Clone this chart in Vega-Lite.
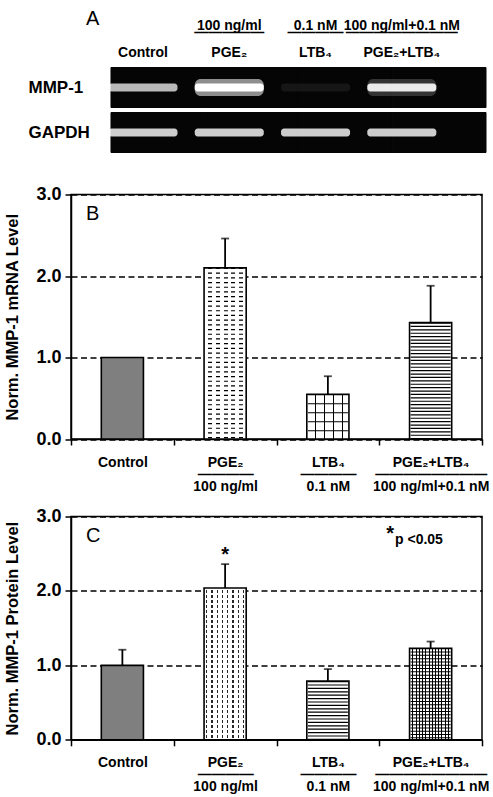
{
  "$schema": "https://vega.github.io/schema/vega-lite/v6.json",
  "background": "white",
  "padding": {"left": 4, "top": 8.5, "right": 4, "bottom": 1},
  "spacing": 12,
  "config": {
    "font": "Liberation Sans",
    "axis": {"labelColor": "black", "titleColor": "black", "domainColor": "black", "tickColor": "black", "labelOverlap": false},
    "title": {"color": "black", "anchor": "start", "frame": "group", "fontWeight": "normal", "fontSize": 20}
  },
  "resolve": {"scale": {"x": "independent", "y": "independent", "color": "independent", "opacity": "independent"}},
  "vconcat": [
    {
      "width": 415,
      "height": 104.5,
      "view": {"stroke": null},
      "title": {"text": "A", "dx": 15, "offset": -10, "frame": "group"},
      "data": {"values": [
        {"lane": "Control", "gene": "MMP-1", "i": 0.72},
        {"lane": "PGE₂", "gene": "MMP-1", "i": 1.0},
        {"lane": "LTB₄", "gene": "MMP-1", "i": 0.07},
        {"lane": "PGE₂+LTB₄", "gene": "MMP-1", "i": 0.9},
        {"lane": "Control", "gene": "GAPDH", "i": 0.8},
        {"lane": "PGE₂", "gene": "GAPDH", "i": 0.8},
        {"lane": "LTB₄", "gene": "GAPDH", "i": 0.8},
        {"lane": "PGE₂+LTB₄", "gene": "GAPDH", "i": 0.8}
      ]},
      "encoding": {
        "y": {"field": "gene", "type": "nominal", "sort": null,
          "scale": {"domain": ["MMP-1", "GAPDH"], "paddingInner": 0.111, "paddingOuter": 0.2165, "align": 0},
          "axis": {"title": null, "domain": false, "ticks": false, "labelAlign": "left", "labelPadding": 43, "labelFontSize": 17, "labelFontWeight": "bold"}}
      },
      "resolve": {"scale": {"x": "independent", "opacity": "independent"}, "axis": {"x": "independent"}},
      "layer": [
        {"mark": {"type": "rect", "color": "#050505", "stroke": "#050505", "strokeWidth": 1},
          "encoding": {
            "x": {"field": "lane", "type": "nominal", "sort": null,
              "scale": {"domain": ["Control", "PGE₂", "LTB₄", "PGE₂+LTB₄"], "paddingInner": 0, "paddingOuter": 0.2133, "align": 1},
              "axis": null}
          }},
        {"mark": {"type": "rect", "color": "white", "width": {"band": 1.6}, "height": {"band": 0.42}, "cornerRadius": 6},
          "encoding": {
            "x": {"field": "lane", "type": "nominal", "sort": null,
              "scale": {"domain": ["Control", "PGE₂", "LTB₄", "PGE₂+LTB₄"], "paddingInner": 0.5, "paddingOuter": 0.655, "align": 0.446},
              "axis": {"orient": "top", "offset": 26.7, "title": null, "domain": false, "ticks": false, "labelAngle": 0, "labelFontSize": 14, "labelFontWeight": "bold", "labelLineHeight": 7, "labelPadding": 8,
                "labelExpr": "datum.value == 'PGE₂' ? ['100 ng/ml', '—————'] : datum.value == 'LTB₄' ? ['0.1 nM', '————'] : datum.value == 'PGE₂+LTB₄' ? ['100 ng/ml+0.1 nM', '————————'] : ''"}},
            "opacity": {"field": "i", "type": "quantitative", "scale": {"domain": [0.85, 1], "range": [0, 0.55], "clamp": true}, "legend": null}
          }},
        {"mark": {"type": "rect", "color": "white", "width": {"band": 1.6}, "height": {"band": 0.2}, "cornerRadius": 3},
          "encoding": {
            "x": {"field": "lane", "type": "nominal", "sort": null,
              "scale": {"domain": ["Control", "PGE₂", "LTB₄", "PGE₂+LTB₄"], "paddingInner": 0.5, "paddingOuter": 0.655, "align": 0.446},
              "axis": {"orient": "top", "title": null, "domain": false, "ticks": false, "labelAngle": 0, "labelFontSize": 14, "labelFontWeight": "bold", "labelPadding": 8}},
            "opacity": {"field": "i", "type": "quantitative", "scale": {"domain": [0, 1], "range": [0, 1]}, "legend": null}
          }}
      ]
    },
    {
      "width": 411,
      "height": 244.5,
      "view": {"stroke": "black", "strokeWidth": 1.5},
      "title": {"text": "B", "dx": 15, "offset": -38, "frame": "group"},
      "data": {"values": [
        {"g": "Control", "v": 1.0},
        {"g": "PGE₂", "v": 2.10, "hi": 2.46},
        {"g": "LTB₄", "v": 0.55, "hi": 0.77},
        {"g": "PGE₂+LTB₄", "v": 1.43, "hi": 1.88}
      ]},
      "encoding": {
        "x": {"field": "g", "type": "nominal", "sort": null,
          "scale": {"domain": ["Control", "PGE₂", "LTB₄", "PGE₂+LTB₄"], "paddingInner": 0, "paddingOuter": 0},
          "axis": {"title": null, "labelAngle": 0, "labelFontSize": 14, "labelFontWeight": "bold", "labelLineHeight": 12, "labelPadding": 10, "tickBand": "extent", "tickSize": 6, "tickWidth": 1.5, "domainWidth": 1.5,
            "labelExpr": "datum.value == 'Control' ? 'Control' : datum.value == 'PGE₂' ? ['PGE₂', '————', '100 ng/ml'] : datum.value == 'LTB₄' ? ['LTB₄', '————', '0.1 nM'] : datum.value == 'PGE₂+LTB₄' ? ['PGE₂+LTB₄', '————————', '100 ng/ml+0.1 nM'] : ''"}},
        "y": {"field": "v", "type": "quantitative", "title": "Norm. MMP-1 mRNA Level",
          "scale": {"domain": [0, 3], "nice": false},
          "axis": {"title": "Norm. MMP-1 mRNA Level", "titleFontSize": 16.5, "titleFontWeight": "bold", "titlePadding": 15, "values": [0, 1, 2, 3], "format": ".1f", "labelFontSize": 18, "labelFontWeight": "bold", "labelPadding": 4, "tickSize": 6, "tickWidth": 1.5, "domainWidth": 1.5, "grid": true, "gridColor": "black", "gridDash": [6, 3.5], "gridWidth": 1.4, "gridOpacity": 1}}
      },
      "layer": [
        {"mark": {"type": "bar", "width": {"band": 0.41}},
          "encoding": {"color": {"field": "g", "type": "nominal", "scale": {"domain": ["Control", "PGE₂", "LTB₄", "PGE₂+LTB₄"], "range": ["#7f7f7f", "white", "white", "white"]}, "legend": null}}},
        {"transform": [{"filter": "datum.g == 'PGE₂'"}],
          "mark": {"type": "rule", "color": "black", "strokeWidth": 40, "strokeDash": [1.2, 3.5], "strokeCap": "butt"},
          "encoding": {"y2": {"datum": 0}}},
        {"transform": [{"filter": "datum.g == 'LTB₄'"}],
          "mark": {"type": "rule", "color": "black", "strokeWidth": 40, "strokeDash": [1.2, 7.8], "strokeCap": "butt"},
          "encoding": {"y2": {"datum": 0}}},
        {"transform": [{"filter": "datum.g == 'PGE₂+LTB₄'"}],
          "mark": {"type": "rule", "color": "black", "strokeWidth": 40, "strokeDash": [1.2, 2.2], "strokeCap": "butt"},
          "encoding": {"y2": {"datum": 0}}},
        {"transform": [{"filter": "datum.g == 'PGE₂'"}],
          "mark": {"type": "bar", "width": {"band": 0.41}, "fill": {"gradient": "linear", "x1": 0, "y1": 0, "x2": 1, "y2": 0, "stops": [
            {"offset": 0, "color": "white"}, {"offset": 0.105, "color": "white"}, {"offset": 0.105, "color": "rgba(255,255,255,0)"}, {"offset": 0.2, "color": "rgba(255,255,255,0)"},
            {"offset": 0.2, "color": "white"}, {"offset": 0.286, "color": "white"}, {"offset": 0.286, "color": "rgba(255,255,255,0)"}, {"offset": 0.381, "color": "rgba(255,255,255,0)"},
            {"offset": 0.381, "color": "white"}, {"offset": 0.462, "color": "white"}, {"offset": 0.462, "color": "rgba(255,255,255,0)"}, {"offset": 0.557, "color": "rgba(255,255,255,0)"},
            {"offset": 0.557, "color": "white"}, {"offset": 0.643, "color": "white"}, {"offset": 0.643, "color": "rgba(255,255,255,0)"}, {"offset": 0.738, "color": "rgba(255,255,255,0)"},
            {"offset": 0.738, "color": "white"}, {"offset": 0.819, "color": "white"}, {"offset": 0.819, "color": "rgba(255,255,255,0)"}, {"offset": 0.914, "color": "rgba(255,255,255,0)"},
            {"offset": 0.914, "color": "white"}, {"offset": 1, "color": "white"}]}}},
        {"transform": [{"filter": "datum.g == 'LTB₄'"}],
          "mark": {"type": "bar", "width": {"band": 0.41}, "fill": {"gradient": "linear", "x1": 0, "y1": 0, "x2": 1, "y2": 0, "stops": [
            {"offset": 0, "color": "rgba(0,0,0,0)"}, {"offset": 0.196, "color": "rgba(0,0,0,0)"}, {"offset": 0.196, "color": "black"}, {"offset": 0.224, "color": "black"},
            {"offset": 0.224, "color": "rgba(0,0,0,0)"}, {"offset": 0.406, "color": "rgba(0,0,0,0)"}, {"offset": 0.406, "color": "black"}, {"offset": 0.434, "color": "black"},
            {"offset": 0.434, "color": "rgba(0,0,0,0)"}, {"offset": 0.616, "color": "rgba(0,0,0,0)"}, {"offset": 0.616, "color": "black"}, {"offset": 0.644, "color": "black"},
            {"offset": 0.644, "color": "rgba(0,0,0,0)"}, {"offset": 0.826, "color": "rgba(0,0,0,0)"}, {"offset": 0.826, "color": "black"}, {"offset": 0.854, "color": "black"},
            {"offset": 0.854, "color": "rgba(0,0,0,0)"}, {"offset": 1, "color": "rgba(0,0,0,0)"}]}}},
        {"mark": {"type": "bar", "width": {"band": 0.41}, "fillOpacity": 0, "stroke": "black", "strokeWidth": 1.6}},
        {"transform": [{"filter": "isValid(datum.hi)"}],
          "mark": {"type": "rule", "color": "black", "strokeWidth": 1.8},
          "encoding": {"y2": {"field": "hi"}}},
        {"transform": [{"filter": "isValid(datum.hi)"}],
          "mark": {"type": "tick", "color": "black", "thickness": 1.8, "size": 8, "orient": "horizontal"},
          "encoding": {"y": {"field": "hi", "type": "quantitative", "title": "Norm. MMP-1 mRNA Level"}}}
      ]
    },
    {
      "width": 411,
      "height": 223.3,
      "view": {"stroke": "black", "strokeWidth": 1.5},
      "title": {"text": "C", "dx": 15, "offset": -38, "frame": "group"},
      "data": {"values": [
        {"g": "Control", "v": 1.0, "hi": 1.21},
        {"g": "PGE₂", "v": 2.04, "hi": 2.36, "s": "*"},
        {"g": "LTB₄", "v": 0.79, "hi": 0.95},
        {"g": "PGE₂+LTB₄", "v": 1.23, "hi": 1.32}
      ]},
      "encoding": {
        "x": {"field": "g", "type": "nominal", "sort": null,
          "scale": {"domain": ["Control", "PGE₂", "LTB₄", "PGE₂+LTB₄"], "paddingInner": 0, "paddingOuter": 0},
          "axis": {"title": null, "labelAngle": 0, "labelFontSize": 14, "labelFontWeight": "bold", "labelLineHeight": 12, "labelPadding": 10, "tickBand": "extent", "tickSize": 6, "tickWidth": 1.5, "domainWidth": 1.5,
            "labelExpr": "datum.value == 'Control' ? 'Control' : datum.value == 'PGE₂' ? ['PGE₂', '————', '100 ng/ml'] : datum.value == 'LTB₄' ? ['LTB₄', '————', '0.1 nM'] : datum.value == 'PGE₂+LTB₄' ? ['PGE₂+LTB₄', '————————', '100 ng/ml+0.1 nM'] : ''"}},
        "y": {"field": "v", "type": "quantitative", "title": "Norm. MMP-1 Protein Level",
          "scale": {"domain": [0, 3], "nice": false},
          "axis": {"title": "Norm. MMP-1 Protein Level", "titleFontSize": 16.5, "titleFontWeight": "bold", "titlePadding": 15, "values": [0, 1, 2, 3], "format": ".1f", "labelFontSize": 18, "labelFontWeight": "bold", "labelPadding": 4, "tickSize": 6, "tickWidth": 1.5, "domainWidth": 1.5, "grid": true, "gridColor": "black", "gridDash": [6, 3.5], "gridWidth": 1.4, "gridOpacity": 1}}
      },
      "layer": [
        {"mark": {"type": "bar", "width": {"band": 0.41}},
          "encoding": {"color": {"field": "g", "type": "nominal", "scale": {"domain": ["Control", "PGE₂", "LTB₄", "PGE₂+LTB₄"], "range": ["#7f7f7f", "white", "white", "white"]}, "legend": null}}},
        {"transform": [{"filter": "datum.g == 'PGE₂'"}],
          "mark": {"type": "bar", "width": {"band": 0.41}, "fill": {"gradient": "linear", "x1": 0, "y1": 0, "x2": 1, "y2": 0, "stops": [
            {"offset": 0, "color": "white"}, {"offset": 0.048, "color": "white"}, {"offset": 0.048, "color": "#262626"}, {"offset": 0.077, "color": "#262626"},
            {"offset": 0.077, "color": "white"}, {"offset": 0.173, "color": "white"}, {"offset": 0.173, "color": "#262626"}, {"offset": 0.202, "color": "#262626"},
            {"offset": 0.202, "color": "white"}, {"offset": 0.298, "color": "white"}, {"offset": 0.298, "color": "#262626"}, {"offset": 0.327, "color": "#262626"},
            {"offset": 0.327, "color": "white"}, {"offset": 0.423, "color": "white"}, {"offset": 0.423, "color": "#262626"}, {"offset": 0.452, "color": "#262626"},
            {"offset": 0.452, "color": "white"}, {"offset": 0.548, "color": "white"}, {"offset": 0.548, "color": "#262626"}, {"offset": 0.577, "color": "#262626"},
            {"offset": 0.577, "color": "white"}, {"offset": 0.673, "color": "white"}, {"offset": 0.673, "color": "#262626"}, {"offset": 0.702, "color": "#262626"},
            {"offset": 0.702, "color": "white"}, {"offset": 0.798, "color": "white"}, {"offset": 0.798, "color": "#262626"}, {"offset": 0.827, "color": "#262626"},
            {"offset": 0.827, "color": "white"}, {"offset": 0.923, "color": "white"}, {"offset": 0.923, "color": "#262626"}, {"offset": 0.952, "color": "#262626"},
            {"offset": 0.952, "color": "white"}, {"offset": 1, "color": "white"}]}}},
        {"transform": [{"filter": "datum.g == 'PGE₂'"}],
          "mark": {"type": "rule", "color": "white", "strokeWidth": 40, "strokeDash": [2, 3], "strokeCap": "butt"},
          "encoding": {"y2": {"datum": 0}}},
        {"transform": [{"filter": "datum.g == 'LTB₄'"}],
          "mark": {"type": "rule", "color": "black", "strokeWidth": 40, "strokeDash": [1.2, 2.2], "strokeCap": "butt"},
          "encoding": {"y2": {"datum": 0}}},
        {"transform": [{"filter": "datum.g == 'PGE₂+LTB₄'"}],
          "mark": {"type": "rule", "color": "black", "strokeWidth": 40, "strokeDash": [1, 2.3], "strokeCap": "butt"},
          "encoding": {"y2": {"datum": 0}}},
        {"transform": [{"filter": "datum.g == 'PGE₂+LTB₄'"}],
          "mark": {"type": "bar", "width": {"band": 0.41}, "fill": {"gradient": "linear", "x1": 0, "y1": 0, "x2": 1, "y2": 0, "stops": [
            {"offset": 0, "color": "rgba(0,0,0,0)"}, {"offset": 0.065, "color": "rgba(0,0,0,0)"}, {"offset": 0.065, "color": "black"}, {"offset": 0.089, "color": "black"},
            {"offset": 0.089, "color": "rgba(0,0,0,0)"}, {"offset": 0.142, "color": "rgba(0,0,0,0)"}, {"offset": 0.142, "color": "black"}, {"offset": 0.166, "color": "black"},
            {"offset": 0.166, "color": "rgba(0,0,0,0)"}, {"offset": 0.219, "color": "rgba(0,0,0,0)"}, {"offset": 0.219, "color": "black"}, {"offset": 0.243, "color": "black"},
            {"offset": 0.243, "color": "rgba(0,0,0,0)"}, {"offset": 0.296, "color": "rgba(0,0,0,0)"}, {"offset": 0.296, "color": "black"}, {"offset": 0.32, "color": "black"},
            {"offset": 0.32, "color": "rgba(0,0,0,0)"}, {"offset": 0.373, "color": "rgba(0,0,0,0)"}, {"offset": 0.373, "color": "black"}, {"offset": 0.397, "color": "black"},
            {"offset": 0.397, "color": "rgba(0,0,0,0)"}, {"offset": 0.45, "color": "rgba(0,0,0,0)"}, {"offset": 0.45, "color": "black"}, {"offset": 0.474, "color": "black"},
            {"offset": 0.474, "color": "rgba(0,0,0,0)"}, {"offset": 0.527, "color": "rgba(0,0,0,0)"}, {"offset": 0.527, "color": "black"}, {"offset": 0.551, "color": "black"},
            {"offset": 0.551, "color": "rgba(0,0,0,0)"}, {"offset": 0.603, "color": "rgba(0,0,0,0)"}, {"offset": 0.603, "color": "black"}, {"offset": 0.627, "color": "black"},
            {"offset": 0.627, "color": "rgba(0,0,0,0)"}, {"offset": 0.68, "color": "rgba(0,0,0,0)"}, {"offset": 0.68, "color": "black"}, {"offset": 0.704, "color": "black"},
            {"offset": 0.704, "color": "rgba(0,0,0,0)"}, {"offset": 0.757, "color": "rgba(0,0,0,0)"}, {"offset": 0.757, "color": "black"}, {"offset": 0.781, "color": "black"},
            {"offset": 0.781, "color": "rgba(0,0,0,0)"}, {"offset": 0.834, "color": "rgba(0,0,0,0)"}, {"offset": 0.834, "color": "black"}, {"offset": 0.858, "color": "black"},
            {"offset": 0.858, "color": "rgba(0,0,0,0)"}, {"offset": 0.911, "color": "rgba(0,0,0,0)"}, {"offset": 0.911, "color": "black"}, {"offset": 0.935, "color": "black"},
            {"offset": 0.935, "color": "rgba(0,0,0,0)"}, {"offset": 1, "color": "rgba(0,0,0,0)"}]}}},
        {"mark": {"type": "bar", "width": {"band": 0.41}, "fillOpacity": 0, "stroke": "black", "strokeWidth": 1.6}},
        {"transform": [{"filter": "isValid(datum.hi)"}],
          "mark": {"type": "rule", "color": "black", "strokeWidth": 1.8},
          "encoding": {"y2": {"field": "hi"}}},
        {"transform": [{"filter": "isValid(datum.hi)"}],
          "mark": {"type": "tick", "color": "black", "thickness": 1.8, "size": 8, "orient": "horizontal"},
          "encoding": {"y": {"field": "hi", "type": "quantitative", "title": "Norm. MMP-1 Protein Level"}}},
        {"transform": [{"filter": "isValid(datum.s)"}],
          "mark": {"type": "text", "fontSize": 20, "fontWeight": "bold", "baseline": "alphabetic", "dy": -3, "color": "black"},
          "encoding": {"y": {"field": "hi", "type": "quantitative", "title": "Norm. MMP-1 Protein Level"}, "text": {"field": "s"}}},
        {"data": {"values": [{"g": "PGE₂+LTB₄", "v": 2.68, "s": "*", "t": "p <0.05"}]},
          "mark": {"type": "text", "fontSize": 14, "fontWeight": "bold", "align": "left", "baseline": "middle", "dx": -35.6, "color": "black"},
          "encoding": {"text": {"field": "t"}}},
        {"data": {"values": [{"g": "PGE₂+LTB₄", "v": 2.68, "s": "*", "t": "p <0.05"}]},
          "mark": {"type": "text", "fontSize": 20, "fontWeight": "bold", "align": "right", "baseline": "alphabetic", "dx": -36.6, "dy": 0, "color": "black"},
          "encoding": {"text": {"field": "s"}}}
      ]
    }
  ]
}
